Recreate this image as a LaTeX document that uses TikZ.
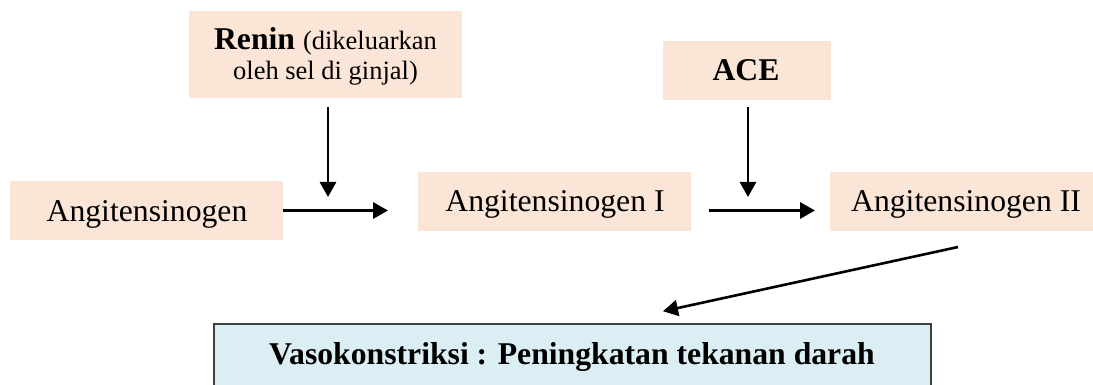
\documentclass[tikz,border=0pt]{standalone}
\usepackage{fontspec}
\setmainfont{Liberation Serif}
\usetikzlibrary{arrows.meta,calc}
\definecolor{peach}{HTML}{FBE5D6}
\definecolor{paleblue}{HTML}{DAEEF3}
\definecolor{edgegray}{HTML}{404040}
\begin{document}
\begin{tikzpicture}[x=1pt,y=-1pt,
  box/.style={fill=peach, inner sep=0pt, outer sep=0pt},
  lbl/.style={anchor=base, inner sep=0pt, outer sep=0pt, font=\fontsize{31.7}{38}\selectfont},
  small/.style={font=\fontsize{26.5}{30}\selectfont},
  arr/.style={line width=2.9pt, -{Triangle[length=15pt,width=16pt]}}]
\useasboundingbox (0,0) rectangle (1093,385);
\clip (0,0) rectangle (1093,385);
% boxes
\node[box, minimum width=273pt, minimum height=87pt] (renin) at (325.5,54.5) {};
\node[box, minimum width=168pt, minimum height=59pt] (ace) at (747,70.5) {};
\node[box, minimum width=273pt, minimum height=59pt] (ang) at (146.5,210.5) {};
\node[box, minimum width=273pt, minimum height=59pt] (ang1) at (554.5,201.5) {};
\node[box, minimum width=265pt, minimum height=59pt] (ang2) at (962.5,201.5) {};
\node[fill=paleblue, draw=edgegray, line width=1.5pt, inner sep=0pt,
      minimum width=717pt, minimum height=76pt] (vaso) at (572.5,362) {};
% texts
\node[lbl] (renint1) at (325.5,50) {\textbf{Renin} {\fontsize{26.5}{30}\selectfont(dikeluarkan}};
\node[lbl, small] (renint2) at (325.5,80) {oleh sel di ginjal)};
\node[lbl] (acet) at (746,81) {\textbf{ACE}};
\node[lbl] (angt) at (147,222) {Angitensinogen};
\node[lbl] (ang1t) at (555,211.7) {Angitensinogen I};
\node[lbl] (ang2t) at (966,211.7) {Angitensinogen II};
\node[lbl] (vasot) at (572,364) {\textbf{Vasokonstriksi : Peningkatan tekanan darah}};
% connectors
\draw[arr, line width=3.2pt, shorten >=30pt] (ang.east) -- (ang.east -| ang1.west);
\draw[arr, line width=3.2pt, shorten <=18pt, shorten >=15pt] (ang1.east |- ang.east) -- (ang2.west |- ang.east);
\draw[arr, line width=2.7pt, shorten <=9pt, shorten >=13.5pt] ($(renin.south)+(2.5,0)$) -- ($(renin.south |- ang.east)+(2.5,0)$);
\draw[arr, line width=2.7pt, shorten <=7pt, shorten >=13.5pt] ($(ace.south)+(1,0)$) -- ($(ace.south |- ang.east)+(1,0)$);
\coordinate (dstart) at ($(ang2.south)+(-4.5,16)$);
\coordinate (dend) at ($(vaso.north)+(90.5,-12)$);
\draw[arr, line width=2.6pt] (dstart) -- (dend);
\end{tikzpicture}
\end{document}
